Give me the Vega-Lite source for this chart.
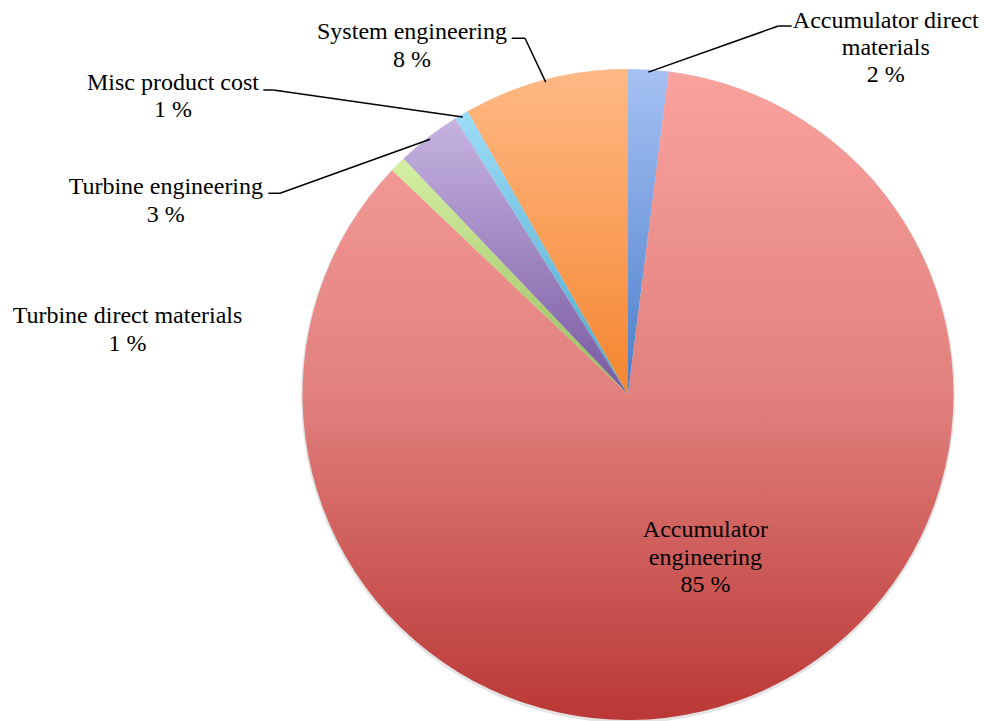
{
  "$schema": "https://vega.github.io/schema/vega-lite/v6.json",
  "width": 984,
  "height": 721,
  "padding": 0,
  "autosize": {"type": "none"},
  "background": "white",
  "config": {"view": {"stroke": null}},
  "data": {
    "values": [
      {"idx": 1, "category": "Accumulator direct materials", "label": "Accumulator direct|materials", "value": 2.0},
      {"idx": 2, "category": "Accumulator engineering", "label": "Accumulator|engineering", "value": 85.1},
      {"idx": 3, "category": "Turbine direct materials", "label": "Turbine direct materials", "value": 0.8},
      {"idx": 4, "category": "Turbine engineering", "label": "Turbine engineering", "value": 3.2},
      {"idx": 5, "category": "Misc product cost", "label": "Misc product cost", "value": 0.7},
      {"idx": 6, "category": "System engineering", "label": "System engineering", "value": 8.2}
    ]
  },
  "transform": [
    {"window": [{"op": "sum", "field": "value", "as": "cum"}], "sort": [{"field": "idx"}], "frame": [null, 0]},
    {"calculate": "datum.cum - datum.value", "as": "start"},
    {"calculate": "(datum.cum - datum.value / 2) / 100 * 2 * PI", "as": "mid"},
    {"calculate": "323 * sin(datum.mid)", "as": "ex"},
    {"calculate": "323 * cos(datum.mid)", "as": "ey"},
    {"calculate": "datum.idx == 1 ? 130 : datum.idx == 4 ? -150 : datum.idx == 5 ? -189.4 : datum.idx == 6 ? -20.7 : null", "as": "ox"},
    {"calculate": "datum.idx == 1 ? 46.1 : datum.idx == 4 ? -54 : datum.idx == 5 ? 27 : datum.idx == 6 ? 43.9 : null", "as": "oy"},
    {"calculate": "datum.idx == 1 ? 13.4 : datum.idx == 4 ? -11.7 : datum.idx == 5 ? -10 : datum.idx == 6 ? -13.3 : 0", "as": "tick"},
    {"calculate": "datum.idx == 1 ? 237.5 : datum.idx == 2 ? -31 : datum.idx == 3 ? -272.1 : datum.idx == 4 ? -264.2 : datum.idx == 5 ? -289.7 : -133.7", "as": "tox"},
    {"calculate": "datum.idx == 1 ? 44.6 : datum.idx == 2 ? 161.4 : datum.idx == 3 ? -157.2 : datum.idx == 4 ? -55 : datum.idx == 5 ? 27 : 42.9", "as": "toy"},
    {"calculate": "datum.ex + datum.ox", "as": "bx"},
    {"calculate": "datum.ey + datum.oy", "as": "by"},
    {"calculate": "datum.bx + datum.tick", "as": "bx2"},
    {"calculate": "datum.ex + datum.tox", "as": "tx"},
    {"calculate": "datum.ey + datum.toy", "as": "ty"},
    {"calculate": "split(datum.label + '|' + format(datum.value, '.0f') + ' %', '|')", "as": "lines"}
  ],
  "layer": [
    {
      "mark": {"type": "arc", "outerRadius": 327, "color": "#909090", "opacity": 0.25, "yOffset": 1.5},
      "encoding": {
        "x": {"datum": 0, "type": "quantitative", "scale": {"domain": [-628, 356], "nice": false, "zero": false}, "axis": null},
        "y": {"datum": 0, "type": "quantitative", "scale": {"domain": [-326.5, 394.5], "nice": false, "zero": false}, "axis": null},
        "theta": {"field": "start", "type": "quantitative", "scale": {"domain": [0, 100], "range": [0, 6.283185307179586]}},
        "theta2": {"field": "cum"}
      }
    },
    {
      "transform": [{"filter": "datum.idx == 1"}],
      "mark": {"type": "arc", "outerRadius": 325.5, "color": {"gradient": "linear", "x1": 0, "y1": 0, "x2": 0, "y2": 1, "stops": [{"offset": 0, "color": "#a6c1f4"}, {"offset": 1, "color": "#4a7ec9"}]}},
      "encoding": {
        "x": {"datum": 0, "type": "quantitative", "scale": {"domain": [-628, 356], "nice": false, "zero": false}, "axis": null},
        "y": {"datum": 0, "type": "quantitative", "scale": {"domain": [-326.5, 394.5], "nice": false, "zero": false}, "axis": null},
        "theta": {"field": "start", "type": "quantitative", "scale": {"domain": [0, 100], "range": [0, 6.283185307179586]}},
        "theta2": {"field": "cum"}
      }
    },
    {
      "transform": [{"filter": "datum.idx == 2"}],
      "mark": {"type": "arc", "outerRadius": 325.5, "color": {"gradient": "linear", "x1": 0, "y1": 0, "x2": 0, "y2": 1, "stops": [{"offset": 0, "color": "#faa29f"}, {"offset": 0.5, "color": "#e1807d"}, {"offset": 1, "color": "#ba3836"}]}},
      "encoding": {
        "x": {"datum": 0, "type": "quantitative", "scale": {"domain": [-628, 356], "nice": false, "zero": false}, "axis": null},
        "y": {"datum": 0, "type": "quantitative", "scale": {"domain": [-326.5, 394.5], "nice": false, "zero": false}, "axis": null},
        "theta": {"field": "start", "type": "quantitative", "scale": {"domain": [0, 100], "range": [0, 6.283185307179586]}},
        "theta2": {"field": "cum"}
      }
    },
    {
      "transform": [{"filter": "datum.idx == 3"}],
      "mark": {"type": "arc", "outerRadius": 325.5, "color": {"gradient": "linear", "x1": 0, "y1": 0, "x2": 0, "y2": 1, "stops": [{"offset": 0, "color": "#d4f0a4"}, {"offset": 1, "color": "#98bb5c"}]}},
      "encoding": {
        "x": {"datum": 0, "type": "quantitative", "scale": {"domain": [-628, 356], "nice": false, "zero": false}, "axis": null},
        "y": {"datum": 0, "type": "quantitative", "scale": {"domain": [-326.5, 394.5], "nice": false, "zero": false}, "axis": null},
        "theta": {"field": "start", "type": "quantitative", "scale": {"domain": [0, 100], "range": [0, 6.283185307179586]}},
        "theta2": {"field": "cum"}
      }
    },
    {
      "transform": [{"filter": "datum.idx == 4"}],
      "mark": {"type": "arc", "outerRadius": 325.5, "color": {"gradient": "linear", "x1": 0, "y1": 0, "x2": 0, "y2": 1, "stops": [{"offset": 0, "color": "#c6b3e1"}, {"offset": 1, "color": "#7758a0"}]}},
      "encoding": {
        "x": {"datum": 0, "type": "quantitative", "scale": {"domain": [-628, 356], "nice": false, "zero": false}, "axis": null},
        "y": {"datum": 0, "type": "quantitative", "scale": {"domain": [-326.5, 394.5], "nice": false, "zero": false}, "axis": null},
        "theta": {"field": "start", "type": "quantitative", "scale": {"domain": [0, 100], "range": [0, 6.283185307179586]}},
        "theta2": {"field": "cum"}
      }
    },
    {
      "transform": [{"filter": "datum.idx == 5"}],
      "mark": {"type": "arc", "outerRadius": 325.5, "color": {"gradient": "linear", "x1": 0, "y1": 0, "x2": 0, "y2": 1, "stops": [{"offset": 0, "color": "#9ddcf8"}, {"offset": 1, "color": "#4aa9c9"}]}},
      "encoding": {
        "x": {"datum": 0, "type": "quantitative", "scale": {"domain": [-628, 356], "nice": false, "zero": false}, "axis": null},
        "y": {"datum": 0, "type": "quantitative", "scale": {"domain": [-326.5, 394.5], "nice": false, "zero": false}, "axis": null},
        "theta": {"field": "start", "type": "quantitative", "scale": {"domain": [0, 100], "range": [0, 6.283185307179586]}},
        "theta2": {"field": "cum"}
      }
    },
    {
      "transform": [{"filter": "datum.idx == 6"}],
      "mark": {"type": "arc", "outerRadius": 325.5, "color": {"gradient": "linear", "x1": 0, "y1": 0, "x2": 0, "y2": 1, "stops": [{"offset": 0, "color": "#ffb985"}, {"offset": 1, "color": "#f5852f"}]}},
      "encoding": {
        "x": {"datum": 0, "type": "quantitative", "scale": {"domain": [-628, 356], "nice": false, "zero": false}, "axis": null},
        "y": {"datum": 0, "type": "quantitative", "scale": {"domain": [-326.5, 394.5], "nice": false, "zero": false}, "axis": null},
        "theta": {"field": "start", "type": "quantitative", "scale": {"domain": [0, 100], "range": [0, 6.283185307179586]}},
        "theta2": {"field": "cum"}
      }
    },
    {
      "transform": [{"filter": "isValid(datum.ox)"}],
      "mark": {"type": "rule", "color": "black", "strokeWidth": 1.5},
      "encoding": {
        "x": {"field": "ex", "type": "quantitative", "scale": {"domain": [-628, 356], "nice": false, "zero": false}, "axis": null},
        "y": {"field": "ey", "type": "quantitative", "scale": {"domain": [-326.5, 394.5], "nice": false, "zero": false}, "axis": null},
        "x2": {"field": "bx"},
        "y2": {"field": "by"}
      }
    },
    {
      "transform": [{"filter": "isValid(datum.ox)"}],
      "mark": {"type": "rule", "color": "black", "strokeWidth": 1.5},
      "encoding": {
        "x": {"field": "bx", "type": "quantitative", "scale": {"domain": [-628, 356], "nice": false, "zero": false}, "axis": null},
        "y": {"field": "by", "type": "quantitative", "scale": {"domain": [-326.5, 394.5], "nice": false, "zero": false}, "axis": null},
        "x2": {"field": "bx2"}
      }
    },
    {
      "mark": {"type": "text", "font": "Liberation Serif, DejaVu Serif, Times New Roman, serif", "fontSize": 24, "lineHeight": 27.3, "align": "center", "baseline": "alphabetic", "color": "black"},
      "encoding": {
        "x": {"field": "tx", "type": "quantitative", "scale": {"domain": [-628, 356], "nice": false, "zero": false}, "axis": null},
        "y": {"field": "ty", "type": "quantitative", "scale": {"domain": [-326.5, 394.5], "nice": false, "zero": false}, "axis": null},
        "text": {"field": "lines"}
      }
    }
  ]
}
